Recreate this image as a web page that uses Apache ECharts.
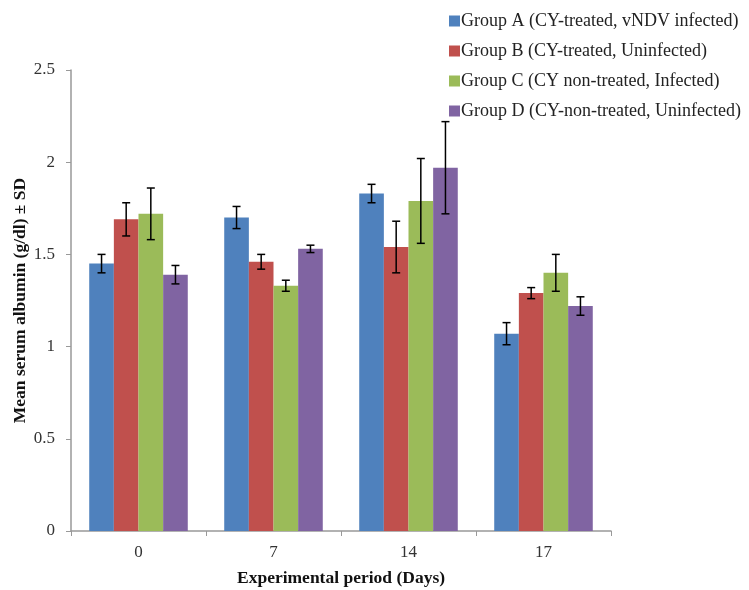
<!DOCTYPE html>
<html>
<head>
<meta charset="utf-8">
<script src="https://cdn.jsdelivr.net/npm/echarts@6/dist/echarts.min.js"></script>
<style>
  html, body { margin: 0; padding: 0; background: #fff; }
  #chart { width: 749px; height: 590px; }
</style>
</head>
<body>
<div id="chart"></div>
<script>
const days = ['0', '7', '14', '17'];
const groupNames = [
  'Group A (CY-treated, vNDV infected)',
  'Group B (CY-treated, Uninfected)',
  'Group C (CY non-treated, Infected)',
  'Group D (CY-non-treated, Uninfected)'
];
const groupA = [1.45, 1.70, 1.83, 1.07];
const groupB = [1.69, 1.46, 1.54, 1.29];
const groupC = [1.72, 1.33, 1.79, 1.40];
const groupD = [1.39, 1.53, 1.97, 1.22];
const sdA = [0.05, 0.06, 0.05, 0.06];
const sdB = [0.09, 0.04, 0.14, 0.03];
const sdC = [0.14, 0.03, 0.23, 0.10];
const sdD = [0.05, 0.02, 0.25, 0.05];
const colors = ['#4F81BD', '#C0504D', '#9BBB59', '#8064A2'];

const means = [groupA, groupB, groupC, groupD];
const sds = [sdA, sdB, sdC, sdD];
const catGap = 0.27;
const font = 'Liberation Serif';

const barSeries = means.map((vals, i) => ({
  name: groupNames[i],
  type: 'bar',
  data: vals,
  barGap: '0%',
  barCategoryGap: '27%',
  itemStyle: { color: colors[i] }
}));

// error bars drawn over each bar of the group
const errSeries = means.map((vals, i) => ({
  type: 'custom',
  silent: true,
  z: 10,
  data: vals.map((v, j) => [j, v - sds[i][j], v + sds[i][j]]),
  encode: { x: 0, y: [1, 2] },
  renderItem: function (params, api) {
    const cat = api.value(0);
    const lo = api.coord([cat, api.value(1)]);
    const hi = api.coord([cat, api.value(2)]);
    const catW = api.size([1, 0])[0];
    const bw = catW * (1 - catGap) / 4;
    const x = lo[0] + (i - 1.5) * bw;
    const cap = 4;
    const style = { stroke: '#000', lineWidth: 1.5 };
    return {
      type: 'group',
      children: [
        { type: 'line', shape: { x1: x, y1: lo[1], x2: x, y2: hi[1] }, style: style },
        { type: 'line', shape: { x1: x - cap, y1: lo[1], x2: x + cap, y2: lo[1] }, style: style },
        { type: 'line', shape: { x1: x - cap, y1: hi[1], x2: x + cap, y2: hi[1] }, style: style }
      ]
    };
  }
}));

const chart = echarts.init(document.getElementById('chart'));
chart.setOption({
  animation: false,
  textStyle: { fontFamily: font },
  legend: {
    data: groupNames,
    orient: 'vertical',
    left: 444,
    top: 7,
    itemGap: 12,
    itemWidth: 11,
    itemHeight: 11,
    icon: 'rect',
    textStyle: { fontFamily: font, fontSize: 18, color: '#222', padding: [0, 0, 0, -4] }
  },
  grid: { left: 71, right: 138, top: 70, bottom: 59, outerBoundsMode: 'none' },
  xAxis: {
    type: 'category',
    data: days,
    name: 'Experimental period (Days)',
    nameLocation: 'middle',
    nameGap: 38,
    nameMoveOverlap: false,
    nameTextStyle: { fontFamily: font, fontWeight: 'bold', fontSize: 17.5, color: '#111' },
    axisLine: { lineStyle: { color: '#999', width: 1.5 } },
    axisTick: { show: true, alignWithLabel: false, length: 5, lineStyle: { color: '#999' } },
    axisLabel: { fontFamily: font, fontSize: 17, color: '#333', margin: 13 }
  },
  yAxis: {
    type: 'value',
    min: 0,
    max: 2.5,
    interval: 0.5,
    name: 'Mean serum albumin (g/dl) ± SD',
    nameLocation: 'middle',
    nameGap: 42,
    nameMoveOverlap: false,
    nameRotate: 90,
    nameTextStyle: { fontFamily: font, fontWeight: 'bold', fontSize: 17.5, color: '#111' },
    axisLine: { show: true, lineStyle: { color: '#999', width: 1.5 } },
    axisTick: { show: true, length: 5, lineStyle: { color: '#999' } },
    splitLine: { show: false },
    axisLabel: { fontFamily: font, fontSize: 17, color: '#333', margin: 16 }
  },
  series: barSeries.concat(errSeries)
});
</script>
</body>
</html>
